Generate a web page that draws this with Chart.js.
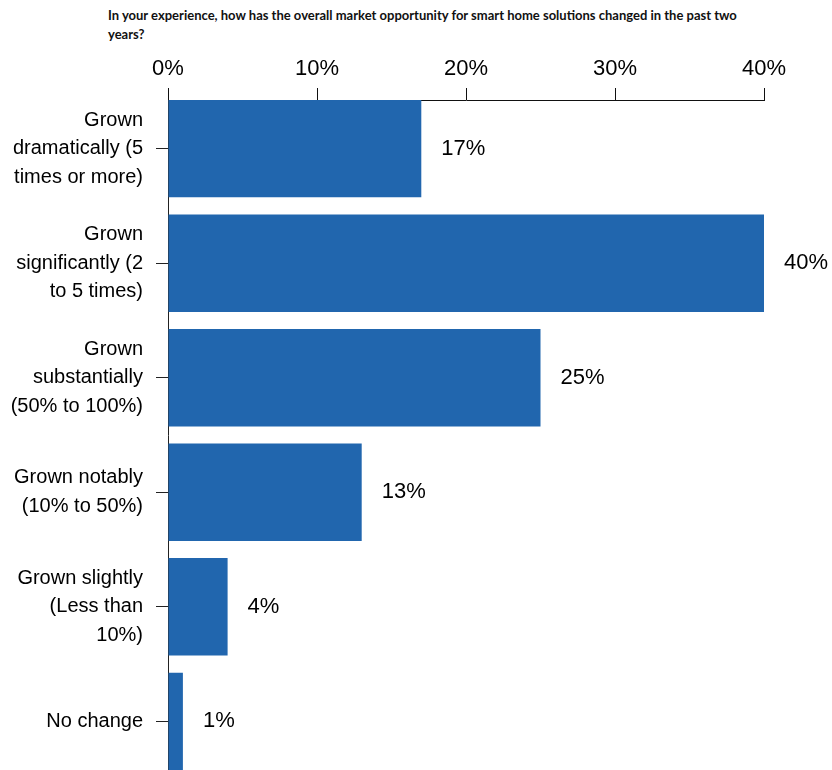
<!DOCTYPE html>
<html>
<head>
<meta charset="utf-8">
<script src="https://cdn.jsdelivr.net/npm/chart.js@4.4.1/dist/chart.umd.min.js"></script>
<style>
  html, body { margin: 0; padding: 0; background: #fff; }
  #wrap { position: relative; width: 832px; height: 770px; overflow: hidden; }
  #title {
    position: absolute; left: 108px; top: 6px; width: 680px;
    font: bold 13px Lato, "Open Sans", sans-serif; line-height: 19px; color: #111;
  }
  canvas { position: absolute; left: 0; top: 0; }
</style>
</head>
<body>
<div id="wrap">
  <div id="title">In your experience, how has the overall market opportunity for smart home solutions changed in the past two<br>years?</div>
  <canvas id="chart" width="832" height="770"></canvas>
</div>
<script>
// respuestas (líneas ya partidas como en el original)
const categorias = [
  ['Grown', 'dramatically (5', 'times or more)'],
  ['Grown', 'significantly (2', 'to 5 times)'],
  ['Grown', 'substantially', '(50% to 100%)'],
  ['Grown notably', '(10% to 50%)'],
  ['Grown slightly', '(Less than', '10%)'],
  ['No change']
];
const porcentajes = [17, 40, 25, 13, 4, 1];
const ticksX = [0, 10, 20, 30, 40];

const AZUL = '#2166ae';
const FAMILIA = 'Arial, "Liberation Sans", sans-serif';

// etiquetas de valor a la derecha de cada barra
const etiquetasValor = {
  id: 'etiquetasValor',
  afterDatasetsDraw(chart) {
    const ctx = chart.ctx;
    ctx.save();
    ctx.font = '22px ' + FAMILIA;
    ctx.fillStyle = '#000';
    ctx.textBaseline = 'middle';
    ctx.textAlign = 'left';
    chart.getDatasetMeta(0).data.forEach((bar, i) => {
      ctx.fillText(porcentajes[i] + '%', bar.x + 20, bar.y);
    });
    ctx.restore();
  }
};

new Chart(document.getElementById('chart'), {
  type: 'bar',
  data: {
    datasets: [{
      data: porcentajes.map((v, i) => ({ x: v, y: i })),
      backgroundColor: AZUL,
      borderWidth: 0,
      categoryPercentage: 1,
      barPercentage: 0.85
    }]
  },
  options: {
    indexAxis: 'y',
    responsive: false,
    animation: false,
    layout: { padding: { left: 0, right: 68, top: 0, bottom: 0 } },
    plugins: { legend: { display: false }, tooltip: { enabled: false } },
    scales: {
      x: {
        type: 'linear',
        position: 'top',
        min: 0, max: 40,
        afterBuildTicks: s => { s.ticks = ticksX.map(v => ({ value: v })); },
        afterFit: s => { s.height = 100; },
        grid: { drawOnChartArea: false, tickLength: 12, color: '#111' },
        border: { color: '#111' },
        ticks: { color: '#000', font: { family: FAMILIA, size: 22 }, padding: 6, callback: v => v + '%' }
      },
      y: {
        type: 'linear',
        reverse: true,
        offset: false,
        min: -0.425, max: 5.425,
        z: 1,
        afterBuildTicks: s => { s.ticks = categorias.map((c, i) => ({ value: i })); },
        afterFit: s => { s.width = 168; s.paddingTop = 0; s.paddingBottom = 0; },
        grid: { offset: false, drawOnChartArea: false, tickLength: 12, color: '#222' },
        border: { color: '#222' },
        ticks: {
          color: '#000', padding: 13,
          font: { family: FAMILIA, size: 20, lineHeight: 1.43 },
          callback: v => categorias[v]
        }
      }
    }
  },
  plugins: [etiquetasValor]
});
</script>
</body>
</html>
